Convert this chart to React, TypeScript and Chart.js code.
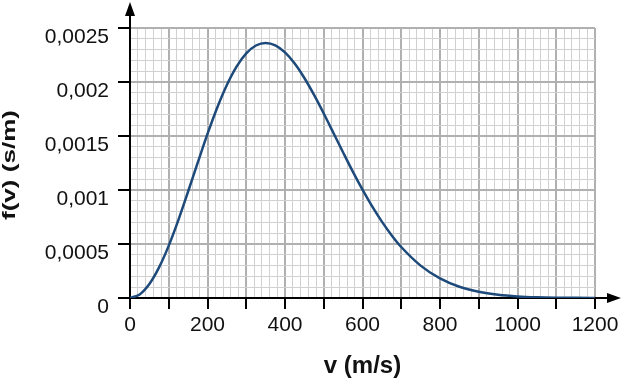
import React, { useEffect, useRef } from 'react';
import { Chart, registerables } from 'chart.js';

Chart.register(...registerables);

// Speeds v (m/s) and distribution values f(v) (s/m)
const speeds = [0, 25, 50, 75, 100, 125, 150, 175, 200, 225, 250, 275, 300, 325, 350, 375, 400, 425, 450, 475, 500, 525, 550, 575, 600, 625, 650, 675, 700, 750, 800, 850, 900, 950, 1000, 1050, 1100, 1150, 1200];
const density = [0, 0.0000327, 0.000129, 0.000283, 0.000485, 0.000724, 0.000986, 0.001255, 0.001519, 0.001762, 0.001972, 0.002142, 0.002265, 0.002338, 0.002362, 0.002340, 0.002274, 0.002171, 0.002037, 0.001880, 0.001708, 0.001528, 0.001347, 0.001170, 0.001003, 0.000848, 0.000707, 0.000582, 0.000472, 0.000300, 0.000181, 0.000104, 0.0000573, 0.000030, 0.000015, 0.0000072, 0.0000033, 0.0000014, 0.0000006];

const xTickLabels = ['0', '200', '400', '600', '800', '1000', '1200'];
const yTickLabels = ['0', '0,0005', '0,001', '0,0015', '0,002', '0,0025'];

const xTitle = 'v (m/s)';
const yTitle = 'f(v) (s/m)';

const FONT = '"Liberation Sans", Arial, sans-serif';

const decorPlugin = {
  id: 'decor',
  afterDraw(chart: any) {
    const { ctx, chartArea } = chart;
    const { left, right, top, bottom } = chartArea;
    ctx.save();
    ctx.strokeStyle = '#000';
    ctx.fillStyle = '#000';
    ctx.lineWidth = 2;
    // y arrow
    ctx.beginPath();
    ctx.moveTo(left, top);
    ctx.lineTo(left, 14);
    ctx.stroke();
    ctx.beginPath();
    ctx.moveTo(left, 2);
    ctx.lineTo(left - 5, 16);
    ctx.lineTo(left + 5, 16);
    ctx.closePath();
    ctx.fill();
    // x arrow
    ctx.beginPath();
    ctx.moveTo(right, bottom);
    ctx.lineTo(609, bottom);
    ctx.stroke();
    ctx.beginPath();
    ctx.moveTo(621, bottom);
    ctx.lineTo(607, bottom - 5);
    ctx.lineTo(607, bottom + 5);
    ctx.closePath();
    ctx.fill();
    // y title
    ctx.translate(10, (top + bottom) / 2 + 2);
    ctx.rotate(-Math.PI / 2);
    ctx.font = 'bold 18px ' + FONT;
    const w = ctx.measureText(yTitle).width;
    ctx.scale(110 / w, 1);
    ctx.textAlign = 'center';
    ctx.textBaseline = 'middle';
    ctx.fillStyle = '#111';
    ctx.fillText(yTitle, 0, 0);
    ctx.restore();
  },
};

export default function App() {
  const ref = useRef<HTMLCanvasElement | null>(null);

  useEffect(() => {
    if (!ref.current) return;
    const points = speeds.map((v, i) => ({ x: v, y: density[i] }));
    const chart = new Chart(ref.current, {
      type: 'line',
      data: {
        datasets: [
          {
            data: points,
            borderColor: '#1d4a7a',
            borderWidth: 2.5,
            pointRadius: 0,
            fill: false,
            cubicInterpolationMode: 'monotone',
          },
        ],
      },
      options: {
        animation: false,
        responsive: true,
        maintainAspectRatio: false,
        layout: { padding: { top: 28, right: 28, left: 0, bottom: 0 } },
        plugins: { legend: { display: false }, tooltip: { enabled: false } },
        scales: {
          x: {
            type: 'linear',
            min: 0,
            max: 1200,
            afterFit(scale: any) {
              scale.height = 86;
            },
            ticks: {
              stepSize: 20,
              autoSkip: false,
              maxRotation: 0,
              maxTicksLimit: 200,
              padding: 4,
              color: '#111',
              font: { family: FONT, size: 21 },
              callback: (v: any) => {
                const n = Math.round(Number(v));
                return n % 200 === 0 ? xTickLabels[n / 200] : '';
              },
            },
            grid: {
              drawTicks: true,
              tickLength: 11,
              tickWidth: 2,
              color: (c: any) => (Math.round(c.tick.value) % 100 === 0 ? '#b0b0b0' : '#d0d0d0'),
              lineWidth: (c: any) => (Math.round(c.tick.value) % 100 === 0 ? 2 : 1),
              tickColor: (c: any) => (Math.round(c.tick.value) % 100 === 0 ? '#000' : 'rgba(0,0,0,0)'),
            },
            border: { color: '#000', width: 2 },
            title: {
              display: true,
              text: xTitle,
              color: '#111',
              font: { family: FONT, size: 24, weight: 'bold' },
              padding: { top: 0, bottom: 3 },
            },
          },
          y: {
            type: 'linear',
            min: 0,
            max: 0.0025,
            afterFit(scale: any) {
              scale.width = 130;
            },
            ticks: {
              stepSize: 0.0001,
              autoSkip: false,
              maxTicksLimit: 200,
              padding: 9,
              labelOffset: 9,
              color: '#111',
              font: { family: FONT, size: 21 },
              callback: (v: any) => {
                const n = Math.round(Number(v) * 10000);
                return n % 5 === 0 ? yTickLabels[n / 5] : '';
              },
            },
            grid: {
              drawTicks: true,
              tickLength: 12,
              tickWidth: 2,
              color: (c: any) => (Math.round(c.tick.value * 10000) % 5 === 0 ? '#b0b0b0' : '#d0d0d0'),
              lineWidth: (c: any) => (Math.round(c.tick.value * 10000) % 5 === 0 ? 2 : 1),
              tickColor: (c: any) => (Math.round(c.tick.value * 10000) % 5 === 0 ? '#000' : 'rgba(0,0,0,0)'),
            },
            border: { color: '#000', width: 2 },
            title: { display: false },
          },
        },
      },
      plugins: [decorPlugin],
    } as any);
    return () => chart.destroy();
  }, []);

  return (
    <div style={{ position: 'absolute', left: 0, top: 0, width: 623, height: 384, background: '#fff' }}>
      <canvas ref={ref} />
    </div>
  );
}
